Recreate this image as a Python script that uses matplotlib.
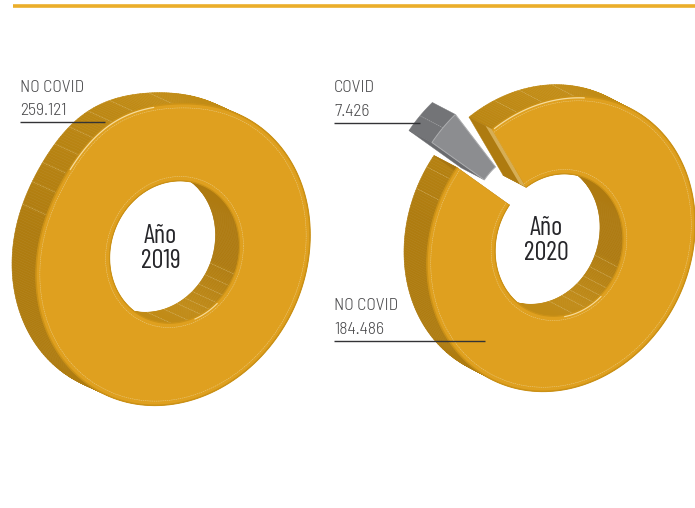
import logging
import numpy as np
import matplotlib
matplotlib.use("Agg")
import matplotlib.pyplot as plt
from matplotlib.patches import Polygon
from matplotlib.collections import PolyCollection

logging.getLogger("matplotlib.font_manager").setLevel(logging.ERROR)

# ---- data ----
years = ["Año\n2019", "Año\n2020"]
no_covid = [259121, 184486]
covid = [0, 7426]
no_covid_labels = ["259.121", "184.486"]
covid_label = "7.426"

FACE = "#DFA01F"; RIM = "#CB9116"; HI = "#F6DC9C"
FONT_LABEL = ["Barlow Semi Condensed", "Roboto Condensed", "Liberation Sans Narrow", "Liberation Sans"]
FONT_YEAR = ["Barlow Condensed", "Roboto Condensed", "Liberation Sans Narrow", "Liberation Sans"]

fig = plt.figure(figsize=(6.95, 5.08), dpi=100)
ax = fig.add_axes([0, 0, 1, 1])
ax.set_xlim(0, 695); ax.set_ylim(508, 0); ax.axis("off")


def lerp(c1, c2, f):
    a = np.array(matplotlib.colors.to_rgb(c1)); b = np.array(matplotlib.colors.to_rgb(c2))
    return tuple(a + (b - a) * np.clip(f, 0, 1))


class Ring:
    def __init__(s, c, M, hc, Mh, ext, bump=0.0):
        s.c = np.array(c, float); s.M = np.array(M, float)
        s.hc = np.array(hc, float); s.Mh = np.array(Mh, float)
        s.e = np.array(ext, float); s.bump = bump

    def outer(s, t, sh=(0, 0), r=1.0):
        t = np.atleast_1d(t).astype(float)
        d = (t % 360) - 245
        rr = r * (1 + s.bump * np.exp(-(d / 22.0) ** 2))
        a = np.radians(t)
        return s.c + np.stack([np.cos(a), np.sin(a)], 1) @ s.M.T * rr[:, None] + np.array(sh, float)

    def inner(s, t, sh=(0, 0), r=1.0):
        a = np.radians(np.atleast_1d(t).astype(float))
        return s.hc + np.stack([np.cos(a), np.sin(a)], 1) @ s.Mh.T * r + np.array(sh, float)


def sweep(t0, t1):
    return np.linspace(t0, t1, int(abs(t1 - t0)) + 2)


def outer_shade(t):
    return lerp("#AF7C10", "#C28C15", ((t % 360) - 195) / 70)


def inner_shade(t):
    t = t % 360
    if t > 200 or t < 20:
        return "#AE7A10"
    return lerp("#B07C10", "#C18B16", (t - 20) / 45)


def draw_sides(R, t0, t1, z=2):
    ts = sweep(t0, t1)
    o = R.outer(ts); ob = o + R.e
    i = R.inner(ts); ib = i + R.e
    qo = [[o[j], o[j + 1], ob[j + 1], ob[j]] for j in range(len(ts) - 1)]
    qi = [[i[j], i[j + 1], ib[j + 1], ib[j]] for j in range(len(ts) - 1)]
    co = [outer_shade(t) for t in ts[:-1]]
    ci = [inner_shade(t) for t in ts[:-1]]
    ax.add_collection(PolyCollection(qo, facecolors=co, edgecolors=co, linewidths=0.4, zorder=z))
    ax.add_collection(PolyCollection(qi, facecolors=ci, edgecolors=ci, linewidths=0.4, zorder=z))


def seam_lines(R, out_t, in_t, z=2.5):
    for fn, ts in ((R.outer, out_t), (R.inner, in_t)):
        for t in ts:
            a = fn(t)[0]; b = a + R.e
            ax.plot([a[0], b[0]], [a[1], b[1]], color="#D9BA70", lw=0.4, ls=(0, (2, 1)), zorder=z)


def face(R, t0, t1, z=4):
    ts = sweep(t0, t1)
    v = np.vstack([R.outer(ts), R.inner(ts[::-1])])
    ax.add_patch(Polygon(v, closed=True, fc=FACE, ec=FACE, lw=0.3, zorder=z))


def rims(R, t0, t1, z=5):
    ts = sweep(t0, t1)
    ax.plot(*R.outer(ts).T, color=RIM, lw=1.1, zorder=z, solid_capstyle="butt")
    ax.plot(*R.inner(ts).T, color=RIM, lw=0.9, zorder=z, solid_capstyle="butt")
    ax.plot(*R.outer(ts, r=0.972).T, color="#EBCF8C", lw=0.35, ls=(0, (3, 1.5)), zorder=z)
    ax.plot(*R.inner(ts, r=1.06).T, color="#EBCF8C", lw=0.35, ls=(0, (3, 1.5)), zorder=z)


def highlight(R, a0, a1, b0, b1, z=5.5):
    ax.plot(*R.outer(sweep(a0, a1), r=0.992).T, color=HI, lw=0.9, zorder=z)
    ax.plot(*R.inner(sweep(b0, b1), r=1.02).T, color=HI, lw=0.8, zorder=z)


# ---- 2019 ----
R19 = Ring((173, 255), [[137, 0], [-20, 149]], (174.5, 252), [[65, 0], [-6, 71]], (-24, -11), bump=0.05)
sweep19 = no_covid[0] / (no_covid[0] + covid[0]) * 360
draw_sides(R19, 0, sweep19)
seam_lines(R19, [203, 212, 220, 228, 236, 245, 254, 270], [23, 33, 42, 50, 58, 66, 78, 93])
face(R19, 0, sweep19)
rims(R19, 0, sweep19)
highlight(R19, 222, 262, 50, 72)

# ---- 2020 ----
R20 = Ring((561, 244), [[134, 0], [-20, 146]], (559, 245), [[64, 0], [-6, 71]], (-23, -12))
total = no_covid[1] + covid[1]
covid_sweep = covid[1] / total * 360
main_sweep = no_covid[1] / total * 360 - 6      # gap left by the pulled-out slice
main_start = 239
cov_start = main_start + main_sweep - 360
draw_sides(R20, main_start, main_start + main_sweep)
seam_lines(R20, [205, 214, 251, 262, 276], [23, 33, 42, 50, 58, 66, 78])
for t, col in ((main_start, "#AE7B10"), (main_start + main_sweep, "#A87610")):
    a = R20.outer(t)[0]; b = R20.inner(t)[0]
    ax.add_patch(Polygon([a, b, b + R20.e, a + R20.e], closed=True, fc=col, ec=col, lw=0.3, zorder=3))
    if t == main_start:
        ax.add_patch(Polygon([a, b, b + 0.28 * R20.e, a + 0.28 * R20.e], closed=True,
                             fc="#D6AE55", ec="none", zorder=3.5))
face(R20, main_start, main_start + main_sweep)
rims(R20, main_start, main_start + main_sweep)
highlight(R20, 240, 280, 50, 85)

# pulled-out COVID slice
exp = (-25, -25)
ts = sweep(cov_start, cov_start + covid_sweep)
o = R20.outer(ts, exp); i = R20.inner(ts, exp)
ax.add_patch(Polygon(np.vstack([o, o[::-1] + R20.e]), closed=True, fc="#737477", ec="#737477", lw=0.3, zorder=6))
a, b = o[0], i[0]
ax.add_patch(Polygon([a, b, b + R20.e, a + R20.e], closed=True, fc="#6A6B6E", ec="#6A6B6E", lw=0.3, zorder=6))
ax.add_patch(Polygon(np.vstack([o, i[::-1]]), closed=True, fc="#8C8D90", ec="#ABACAE", lw=0.7, zorder=7))
m = o[len(o) // 2]
ax.plot([m[0], m[0] + R20.e[0]], [m[1], m[1] + R20.e[1]], color="#A5A6A8", lw=0.5, ls=(0, (2, 1)), zorder=7)

# ---- decoration and labels ----
ax.plot([13, 695], [5.5, 5.5], color="#EBAE2A", lw=2.6, solid_capstyle="butt", zorder=1)

LBL = "#4A4A4C"


def label(x, y, top, bottom, x1):
    ax.text(x, y - 34.5, top, color=LBL, fontsize=12.6, family=FONT_LABEL, weight=300, va="center", ha="left", zorder=9)
    ax.text(x, y - 11, bottom, color=LBL, fontsize=12.6, family=FONT_LABEL, weight=300, va="center", ha="left", zorder=9)
    ax.plot([x, x1], [y, y], color="#333336", lw=1.0, zorder=9, solid_capstyle="butt")


label(20, 122, "NO COVID", no_covid_labels[0], 105)
label(334, 123, "COVID", covid_label, 420)
label(334, 341, "NO COVID", no_covid_labels[1], 485)

for (x, y), t in zip([(160.5, 248.5), (546, 240.5)], years):
    ax.text(x, y, t, color="#26262A", fontsize=19, family=FONT_YEAR, weight=400, va="center", ha="center",
            linespacing=1.02, zorder=9)

fig.savefig("out.png", dpi=100)
